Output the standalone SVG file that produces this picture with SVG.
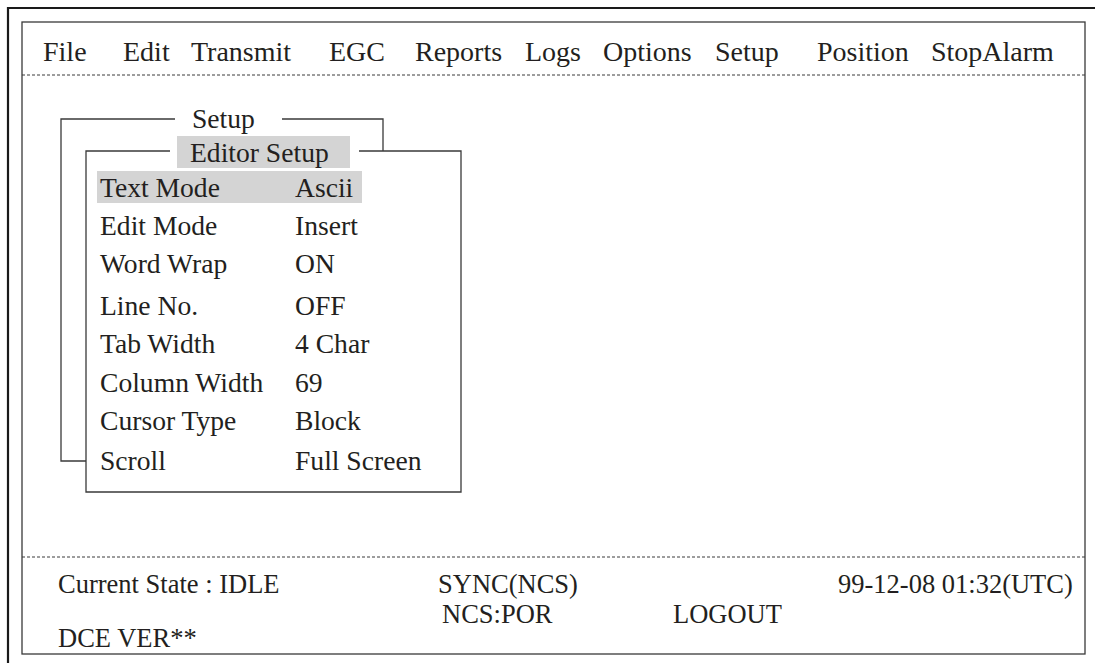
<svg xmlns="http://www.w3.org/2000/svg" width="1095" height="663" viewBox="0 0 1095 663">
<style>
.t{font-family:"Liberation Serif","Times New Roman",serif;font-size:27.6px;fill:#231f20}
.m{font-family:"Liberation Serif","Times New Roman",serif;font-size:28px;fill:#231f20}
.s{font-family:"Liberation Serif","Times New Roman",serif;font-size:26.5px;fill:#231f20}
.ln{stroke:#3a3a3a;stroke-width:1.3;fill:none}
.dot{stroke:#3a3a3a;stroke-width:1;stroke-dasharray:3 2;fill:none}
.hl{fill:#d4d4d4}
</style>
<rect width="1095" height="663" fill="#ffffff"/>
<g id="outer-frame">
<path d="M8 663 V8 H1095" stroke="#1a1a1a" stroke-width="2.2" fill="none"/>
</g>
<g id="screen">
<rect x="22" y="22" width="1063" height="632" class="ln"/>
<line x1="22" y1="75" x2="1085" y2="75" class="dot"/>
<line x1="22" y1="557" x2="1085" y2="557" class="dot"/>
</g>
<g id="menu-bar">
<text class="m" x="43" y="61">File</text>
<text class="m" x="123" y="61">Edit</text>
<text class="m" x="191" y="61">Transmit</text>
<text class="m" x="329" y="61">EGC</text>
<text class="m" x="415" y="61">Reports</text>
<text class="m" x="525" y="61">Logs</text>
<text class="m" x="603" y="61">Options</text>
<text class="m" x="715" y="61">Setup</text>
<text class="m" x="817" y="61">Position</text>
<text class="m" x="931" y="61">StopAlarm</text>
</g>
<g id="setup-box">
<path d="M175 119 H61 V461 H86" class="ln"/>
<path d="M282 119 H383 V151" class="ln"/>
<text class="t" x="192" y="128">Setup</text>
</g>
<g id="editor-setup-box">
<path d="M170 151 H86 V492 H461 V151 H359" class="ln"/>
<rect class="hl" x="177" y="136" width="173" height="32"/>
<text class="t" x="190" y="162">Editor Setup</text>
<rect class="hl" x="97" y="171" width="265" height="32"/>
<text class="t" x="100" y="197">Text Mode</text><text class="t" x="295" y="197">Ascii</text>
<text class="t" x="100" y="235">Edit Mode</text><text class="t" x="295" y="235">Insert</text>
<text class="t" x="100" y="273">Word Wrap</text><text class="t" x="295" y="273">ON</text>
<text class="t" x="100" y="315">Line No.</text><text class="t" x="295" y="315">OFF</text>
<text class="t" x="100" y="353">Tab Width</text><text class="t" x="295" y="353">4 Char</text>
<text class="t" x="100" y="392">Column Width</text><text class="t" x="295" y="392">69</text>
<text class="t" x="100" y="430">Cursor Type</text><text class="t" x="295" y="430">Block</text>
<text class="t" x="100" y="470">Scroll</text><text class="t" x="295" y="470">Full Screen</text>
</g>
<g id="status-bar">
<text class="s" x="58" y="593">Current State : IDLE</text>
<text class="s" x="438" y="593">SYNC(NCS)</text>
<text class="s" x="838" y="593">99-12-08 01:32(UTC)</text>
<text class="s" x="442" y="623">NCS:POR</text>
<text class="s" x="673" y="623">LOGOUT</text>
<text class="s" x="58" y="647">DCE VER**</text>
</g>
</svg>
